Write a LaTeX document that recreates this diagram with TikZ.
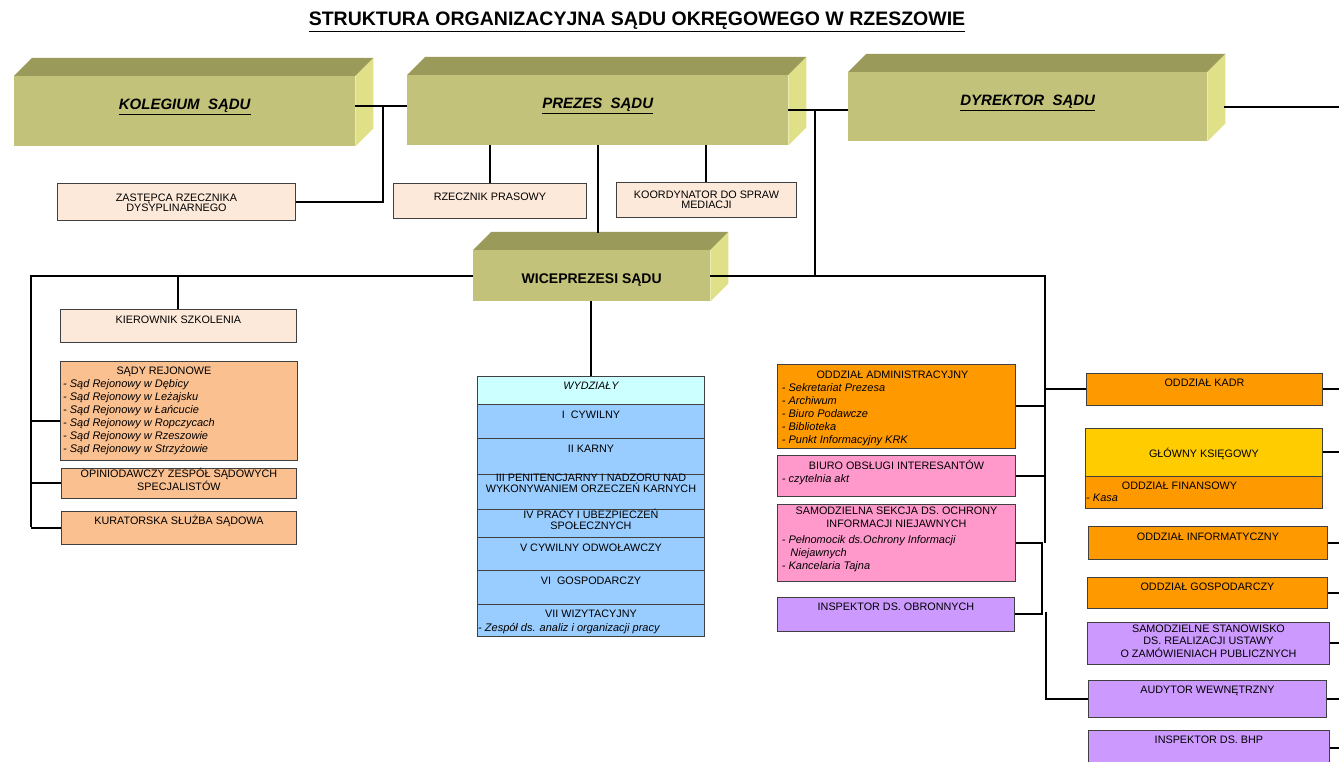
\documentclass[tikz,border=0pt]{standalone}
\usepackage{fontspec}
\setmainfont{Liberation Sans}
\usetikzlibrary{positioning}
\definecolor{olive}{HTML}{C2C27A}
\definecolor{olivetop}{HTML}{9A9A5A}
\definecolor{oliveside}{HTML}{E0E088}
\definecolor{peach}{HTML}{FDE9D9}
\definecolor{apricot}{HTML}{FAC090}
\definecolor{orangebox}{HTML}{FF9900}
\definecolor{pinkbox}{HTML}{FF99CC}
\definecolor{lilac}{HTML}{CC99FF}
\definecolor{gold}{HTML}{FFCC00}
\definecolor{skyblue}{HTML}{99CCFF}
\definecolor{paleblue}{HTML}{CCFFFF}
\definecolor{frame}{HTML}{404040}
\tikzset{
    x=1pt,
    y=-1pt,
    prism/.style = {
        fill=olive,
        anchor=north west,
        inner sep=0pt
    },
    box/.style = {
        draw=frame,
        line width=0.9pt,
        anchor=north west,
        inner sep=0pt
    },
    lbl/.style = {
        font=\fontsize{10.8}{10.5}\selectfont,
        align=center,
        inner sep=0pt,
        execute at begin node=\rule{0pt}{10.2pt}
    },
    items/.style = {
        font=\fontsize{11}{13}\selectfont\itshape,
        align=left,
        anchor=north west,
        inner sep=0pt,
        execute at begin node=\rule{0pt}{10.2pt}
    },
    head/.style = {
        font=\fontsize{15}{18}\selectfont\bfseries\itshape,
        inner sep=0pt
    },
    link/.style = {
        draw,
        line width=2pt
    },
}
\begin{document}
\begin{tikzpicture}
    \clip (0,0) rectangle (1339,762);
    \node[font=\fontsize{19.5}{22}\selectfont\bfseries] (title) at (637,22) {\underline{STRUKTURA ORGANIZACYJNA SĄDU OKRĘGOWEGO W RZESZOWIE}};

    % top level
    \node[prism, minimum width=341pt, minimum height=70pt] (kol) at (14,76) {};
    \node[prism, minimum width=381pt, minimum height=70pt] (prez) at (407,75) {};
    \node[prism, minimum width=359pt, minimum height=69pt] (dyr) at (848,72) {};
    \node[prism, minimum width=237pt, minimum height=51pt] (wice) at (473,250) {};
    \coordinate (wtop) at ([yshift=17pt]wice.north);
    \foreach \n in {kol,prez,dyr,wice}{
        \fill[olivetop] (\n.north west) -- ++(18,-18) -- ([shift={(18,-18)}]\n.north east) -- (\n.north east) -- cycle;
        \fill[oliveside] (\n.north east) -- ++(18,-18) -- ([shift={(18,-18)}]\n.south east) -- (\n.south east) -- cycle;
    }
    \node[head] at ([yshift=4pt]kol.center) {\underline{KOLEGIUM\ \ SĄDU}};
    \node[head] at ([yshift=4pt]prez.center) {\underline{PREZES\ \ SĄDU}};
    \node[head] at ([yshift=3.5pt]dyr.center) {\underline{DYREKTOR\ \ SĄDU}};
    \node[font=\fontsize{14}{16}\selectfont\bfseries] at ([yshift=-4.5pt]wice.center) {WICEPREZESI SĄDU};

    \node[box, fill=peach, minimum width=238pt, minimum height=37pt] (zast) at (57,183) {};
    \node[box, fill=peach, minimum width=193pt, minimum height=35pt] (rzecz) at (393,183) {};
    \node[box, fill=peach, minimum width=180pt, minimum height=35pt] (koord) at (616,182) {};
    \node[lbl, below=10.6pt of zast.north] {ZASTĘPCA RZECZNIKA\\DYSYPLINARNEGO};
    \node[lbl, below=7.6pt of rzecz.north] {RZECZNIK PRASOWY};
    \node[lbl, below=8.6pt of koord.north] {KOORDYNATOR DO SPRAW\\MEDIACJI};

    % left column
    \node[box, fill=peach, minimum width=236pt, minimum height=33pt] (kier) at (60,309) {};
    \node[box, fill=apricot, minimum width=237pt, minimum height=99pt] (sady) at (60,361) {};
    \node[box, fill=apricot, minimum width=235pt, minimum height=30pt] (opin) at (61,468) {};
    \node[box, fill=apricot, minimum width=235pt, minimum height=33pt] (kurat) at (61,511) {};
    \node[lbl, below=3.6pt of kier.north] {KIEROWNIK SZKOLENIA};
    \node[lbl, below=2.6pt of sady.north, xshift=-15pt] {SĄDY REJONOWE};
    \node[items, below right=18.6pt and 3pt of sady.north west] {- Sąd Rejonowy w Dębicy\\- Sąd Rejonowy w Leżajsku\\- Sąd Rejonowy w Łańcucie\\- Sąd Rejonowy w Ropczycach\\- Sąd Rejonowy w Rzeszowie\\- Sąd Rejonowy w Strzyżowie};
    \node[lbl, below=0pt of opin.north] {OPINIODAWCZY ZESPÓŁ SĄDOWYCH\\SPECJALISTÓW};
    \node[lbl, below=2.6pt of kurat.north] {KURATORSKA SŁUŻBA SĄDOWA};

    % wydzialy
    \node[box, fill=paleblue, minimum width=227pt, minimum height=28pt] (wydz) at (477,376) {};
    \node[box, fill=skyblue, minimum width=227pt, minimum height=34pt] (wyd1) at (477,404) {};
    \node[box, fill=skyblue, minimum width=227pt, minimum height=36pt] (wyd2) at (477,438) {};
    \node[box, fill=skyblue, minimum width=227pt, minimum height=35pt] (wyd3) at (477,474) {};
    \node[box, fill=skyblue, minimum width=227pt, minimum height=28pt] (wyd4) at (477,509) {};
    \node[box, fill=skyblue, minimum width=227pt, minimum height=33pt] (wyd5) at (477,537) {};
    \node[box, fill=skyblue, minimum width=227pt, minimum height=34pt] (wyd6) at (477,570) {};
    \node[box, fill=skyblue, minimum width=227pt, minimum height=32pt] (wyd7) at (477,604) {};
    \node[lbl, below=2.6pt of wydz.north, font=\fontsize{10.8}{10.5}\selectfont\itshape] {WYDZIAŁY};
    \node[lbl, below=3.6pt of wyd1.north] {I\ \ CYWILNY};
    \node[lbl, below=3.6pt of wyd2.north] {II KARNY};
    \node[lbl, below=0pt of wyd3.north] {III PENITENCJARNY I NADZORU NAD\\WYKONYWANIEM ORZECZEŃ KARNYCH};
    \node[lbl, below=0pt of wyd4.north] {IV PRACY I UBEZPIECZEŃ\\SPOŁECZNYCH};
    \node[lbl, below=3.6pt of wyd5.north] {V CYWILNY ODWOŁAWCZY};
    \node[lbl, below=3.6pt of wyd6.north] {VI\ \ GOSPODARCZY};
    \node[lbl, below=2.6pt of wyd7.north] {VII WIZYTACYJNY};
    \node[items, below right=16.6pt and 1pt of wyd7.north west] {- Zespół ds. analiz i organizacji pracy};

    % middle right column
    \node[box, fill=orangebox, minimum width=238pt, minimum height=84pt] (admin) at (777,364) {};
    \node[box, fill=pinkbox, minimum width=238pt, minimum height=41pt] (biuro) at (777,455) {};
    \node[box, fill=pinkbox, minimum width=238pt, minimum height=77pt] (sekcja) at (777,504) {};
    \node[box, fill=lilac, minimum width=237pt, minimum height=34pt] (inspob) at (777,597) {};
    \node[lbl, below=3.6pt of admin.north, xshift=-4pt] {ODDZIAŁ ADMINISTRACYJNY};
    \node[items, below right=19.6pt and 4.7pt of admin.north west] {- Sekretariat Prezesa\\- Archiwum\\- Biuro Podawcze\\- Biblioteka\\- Punkt Informacyjny KRK};
    \node[lbl, below=3.6pt of biuro.north] {BIURO OBSŁUGI INTERESANTÓW};
    \node[items, below right=16.6pt and 4.7pt of biuro.north west] {- czytelnia akt};
    \node[lbl, below=2.6pt of sekcja.north, font=\fontsize{10.8}{13}\selectfont] {SAMODZIELNA SEKCJA DS. OCHRONY\\INFORMACJI NIEJAWNYCH};
    \node[items, below right=31.6pt and 4.7pt of sekcja.north west] {- Pełnomocik ds.Ochrony Informacji\\\hspace*{8.5pt}Niejawnych\\- Kancelaria Tajna};
    \node[lbl, below=2.6pt of inspob.north] {INSPEKTOR DS. OBRONNYCH};

    % right column
    \node[box, fill=orangebox, minimum width=236pt, minimum height=32pt] (kadr) at (1086,373) {};
    \node[box, fill=gold, minimum width=237pt, minimum height=48pt] (glow) at (1085,428) {};
    \node[box, fill=orangebox, minimum width=237pt, minimum height=32pt] (finans) at (1085,476) {};
    \node[box, fill=orangebox, minimum width=239pt, minimum height=33pt] (info) at (1088,526) {};
    \node[box, fill=orangebox, minimum width=240pt, minimum height=31pt] (gosp) at (1087,577) {};
    \node[box, fill=lilac, minimum width=242pt, minimum height=42pt] (zam) at (1087,622) {};
    \node[box, fill=lilac, minimum width=238pt, minimum height=37pt] (audyt) at (1088,680) {};
    \node[box, fill=lilac, minimum width=241pt, minimum height=36pt] (bhp) at (1088,730) {};
    \node[lbl, below=2.6pt of kadr.north] {ODDZIAŁ KADR};
    \node[lbl, below=18.6pt of glow.north] {GŁÓWNY KSIĘGOWY};
    \node[lbl, below=2.6pt of finans.north, xshift=-24.5pt] {ODDZIAŁ FINANSOWY};
    \node[items, below right=14.6pt and 1pt of finans.north west] {- Kasa};
    \node[lbl, below=3.6pt of info.north] {ODDZIAŁ INFORMATYCZNY};
    \node[lbl, below=2.6pt of gosp.north] {ODDZIAŁ GOSPODARCZY};
    \node[lbl, below=2.6pt of zam.north, font=\fontsize{10.8}{12.5}\selectfont] {SAMODZIELNE STANOWISKO\\DS. REALIZACJI USTAWY\\O ZAMÓWIENIACH PUBLICZNYCH};
    \node[lbl, below=2.6pt of audyt.north] {AUDYTOR WEWNĘTRZNY};
    \node[lbl, below=2.6pt of bhp.north] {INSPEKTOR DS. BHP};

    % connectors
    \coordinate (kj) at (383,106);
    \coordinate (pbus) at (815,276);
    \coordinate (midbus) at (1045,543);
    \coordinate (brk) at (1042,543);
    \coordinate (lowbus) at (1046,612);
    \coordinate (lbus) at (31,527);
    \coordinate (rb) at (1339,0);

    \path[link] (kol.east |- kj) -- (prez.west |- kj);
    \path[link] (zast.east) -| (kj);
    \path[link] (rzecz.north) -- (rzecz.north |- prez.south);
    \path[link] (koord.north) -- (koord.north |- prez.south);
    \path[link] (prez.south) -- (prez.south |- wtop);
    \path[link] (prez.east) -- (prez.east -| dyr.west);
    \path[link] (prez.east -| pbus) -- (pbus);
    \path[link] ([xshift=17pt]dyr.east) -- (dyr.east -| rb);
    \path[link] (wice.east) -| (midbus);
    \path[link] (wydz.north) -- (wydz.north |- wice.south);
    \path[link] (wice.west) -| (lbus);
    \path[link] (kier.north) -- (kier.north |- wice.west);
    \path[link] ([yshift=-10.5pt]sady.west) -- ([yshift=-10.5pt]sady.west -| lbus);
    \path[link] (opin.west) -- (opin.west -| lbus);
    \path[link] (kurat.west) -- (kurat.west -| lbus);
    \path[link] (admin.east) -- (admin.east -| midbus);
    \path[link] (biuro.east) -- (biuro.east -| midbus);
    \path[link] (kadr.west) -- (kadr.west -| midbus);
    \path[link] (sekcja.east) -| (brk |- inspob.east) -- (inspob.east);
    \path[link] (lowbus) |- (audyt.west);
    \foreach \n in {kadr,glow,info,gosp,zam,audyt,bhp}
        \path[link] (\n.east) -- (\n.east -| rb);
\end{tikzpicture}
\end{document}
